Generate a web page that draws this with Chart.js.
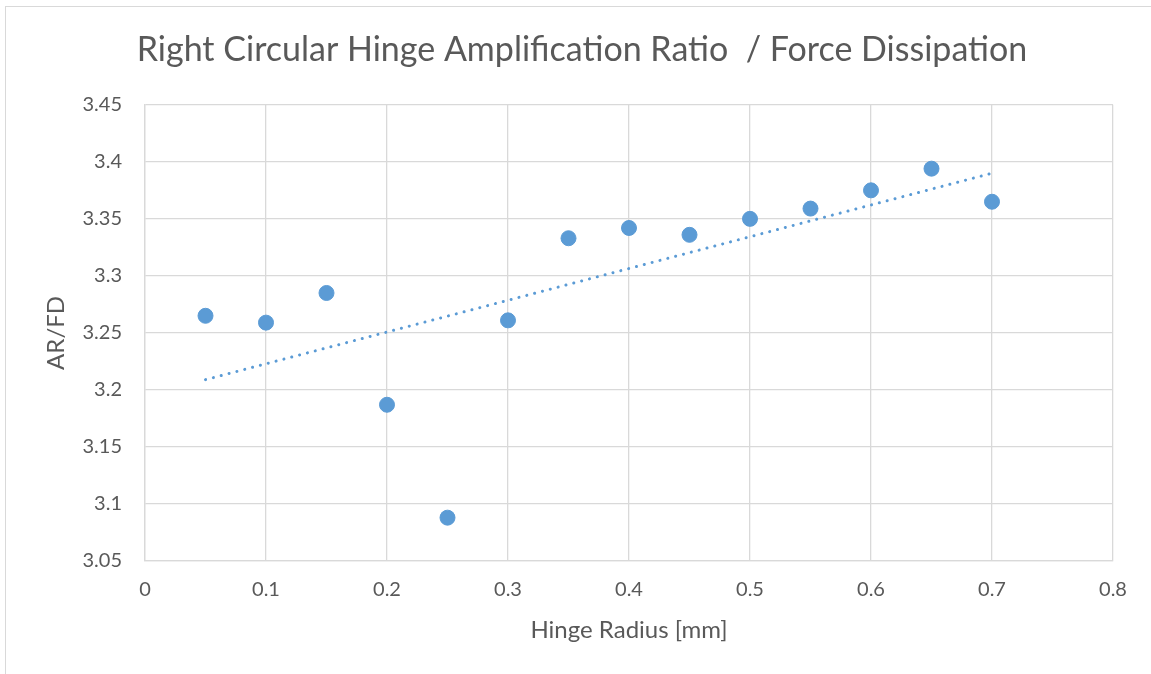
<!DOCTYPE html>
<html>
<head>
<meta charset="utf-8">
<script src="https://cdn.jsdelivr.net/npm/chart.js@4/dist/chart.umd.min.js"></script>
<style>
  body { margin: 0; background: #fff; overflow: hidden; }
  .frame { position: absolute; left: 5px; top: 6px; width: 1200px; height: 700px; border: 1px solid #d9d9d9; }
  .wrap { position: absolute; left: 0; top: 0; width: 1151px; height: 674px; }
</style>
</head>
<body>
<div class="frame"></div>
<div class="wrap"><canvas id="chart"></canvas></div>
<script>
/*------ data ------*/
const hingeRadius = [0.05, 0.1, 0.15, 0.2, 0.25, 0.3, 0.35, 0.4, 0.45, 0.5, 0.55, 0.6, 0.65, 0.7];
const arFd = [3.265, 3.259, 3.285, 3.187, 3.088, 3.261, 3.333, 3.342, 3.336, 3.350, 3.359, 3.375, 3.394, 3.365];

// linear trendline ends
const trendX = [0.05, 0.7];
const trendY = [3.209, 3.390];

const xTicks = [0, 0.1, 0.2, 0.3, 0.4, 0.5, 0.6, 0.7, 0.8];
const yTicks = [3.05, 3.1, 3.15, 3.2, 3.25, 3.3, 3.35, 3.4, 3.45];

const blue = '#5b9bd5';
const textGrey = '#595959';
const gridGrey = '#d9d9d9';
const font = 'Lato, "Open Sans", sans-serif';

function toPoints(xs, ys) {
    return xs.map(function (x, i) { return { x: x, y: ys[i] }; });
}

function useTicks(list) {
    return function (scale) {
        scale.ticks = list.map(function (v) { return { value: v }; });
    };
}

const ctx = document.getElementById('chart').getContext('2d');
const chart = new Chart(ctx, {
    type: 'scatter',
    data: {
        datasets: [{
            label: 'AR/FD',
            data: toPoints(hingeRadius, arFd),
            backgroundColor: blue,
            borderColor: blue,
            pointRadius: 7.5,
            pointHoverRadius: 7.5,
            order: 1
        }, {
            label: 'Linear (AR/FD)',
            data: toPoints(trendX, trendY),
            showLine: true,
            borderColor: blue,
            borderWidth: 3,
            borderDash: [0.1, 8],
            borderCapStyle: 'round',
            pointRadius: 0,
            fill: false,
            order: 2
        }]
    },
    options: {
        responsive: true,
        maintainAspectRatio: false,
        animation: false,
        layout: { padding: { left: 51, top: 0, right: 38, bottom: 25 } },
        plugins: {
            legend: { display: false },
            tooltip: { enabled: false },
            title: {
                display: true,
                text: 'Right Circular Hinge Amplification Ratio  / Force Dissipation',
                color: textGrey,
                font: { family: font, size: 34, weight: 'normal' },
                padding: { top: 30, bottom: 34 }
            }
        },
        scales: {
            x: {
                type: 'linear',
                min: 0,
                max: 0.8,
                afterBuildTicks: useTicks(xTicks),
                afterFit: function (scale) { scale.height = 88; },
                grid: { color: gridGrey, lineWidth: 1.3, drawTicks: false },
                border: { color: gridGrey, width: 1.3 },
                ticks: {
                    color: textGrey,
                    padding: 17,
                    font: { family: font, size: 20 },
                    callback: function (v) { return String(+v.toFixed(2)); }
                },
                title: {
                    display: true,
                    text: 'Hinge Radius [mm]',
                    color: textGrey,
                    font: { family: font, size: 24 }
                }
            },
            y: {
                type: 'linear',
                min: 3.05,
                max: 3.45,
                afterBuildTicks: useTicks(yTicks),
                afterFit: function (scale) { scale.width = 94; },
                grid: { color: gridGrey, lineWidth: 1.3, drawTicks: false },
                border: { color: gridGrey, width: 1.3 },
                ticks: {
                    color: textGrey,
                    padding: 23,
                    font: { family: font, size: 20 },
                    callback: function (v) { return String(+v.toFixed(2)); }
                },
                title: {
                    display: true,
                    text: 'AR/FD',
                    color: textGrey,
                    font: { family: font, size: 24 },
                    padding: { top: -9, bottom: 0 }
                }
            }
        }
    }
});
</script>
</body>
</html>
